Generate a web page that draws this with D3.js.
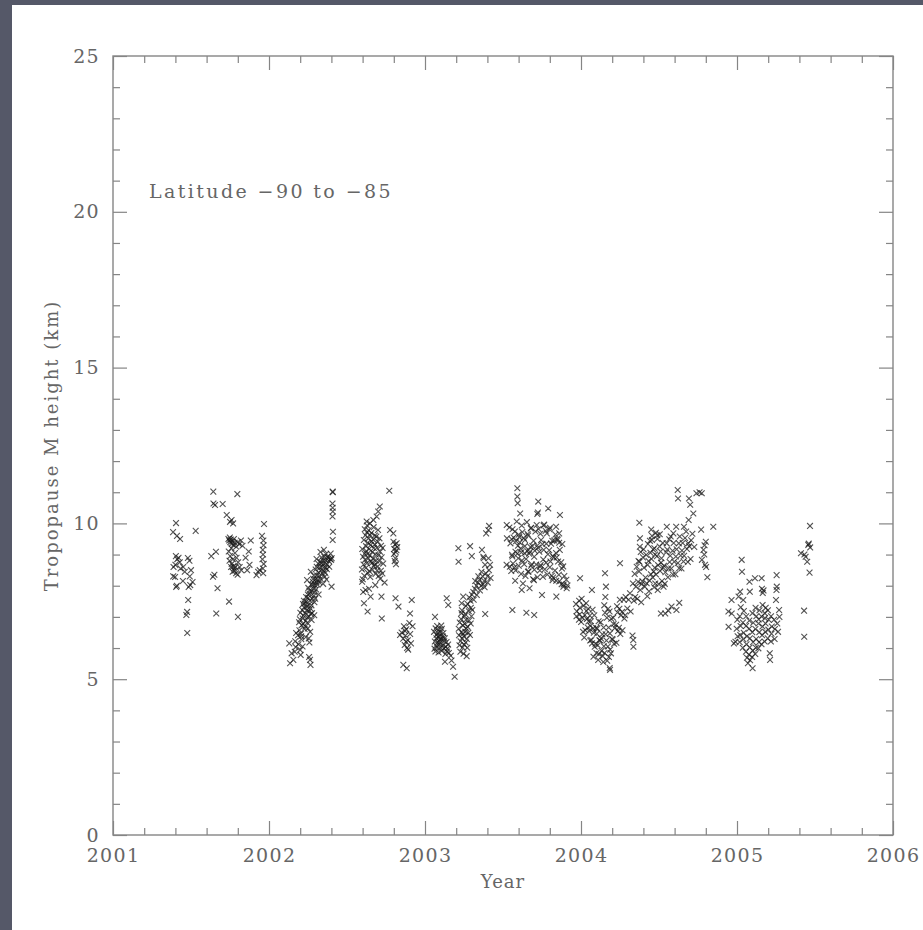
<!DOCTYPE html>
<html><head><meta charset="utf-8">
<script src="https://cdn.jsdelivr.net/npm/d3@7"></script>
<style>
html,body{margin:0;padding:0;background:#555868;}
svg{display:block;}
</style></head>
<body>
<svg id="c" width="923" height="930"></svg>
<script>
// ---- data: [decimal year, tropopause height km] ----
const obs2001 = [
 [2001.385,9.72],[2001.386,8.3],[2001.388,8.6],[2001.40,8.67],[2001.398,8.28],[2001.404,10.01],[2001.403,8.95],
 [2001.41,9.6],[2001.412,8.85],[2001.409,8.0],[2001.405,7.96],[2001.42,8.9],[2001.43,9.5],[2001.428,8.75],
 [2001.433,8.55],[2001.45,8.6],[2001.448,8.15],[2001.46,8.45],[2001.47,7.06],[2001.475,7.16],[2001.476,6.48],
 [2001.48,8.89],[2001.482,7.54],[2001.485,7.96],[2001.49,8.8],[2001.492,8.3],[2001.495,8.02],[2001.50,8.5],
 [2001.51,8.12],[2001.53,9.76],
 [2001.63,8.95],[2001.643,11.02],[2001.644,10.64],[2001.641,8.29],[2001.65,8.35],[2001.654,10.59],[2001.66,9.09],
 [2001.662,7.11],[2001.67,7.92],[2001.703,10.62],[2001.729,10.27],[2001.74,9.5],[2001.742,9.1],[2001.745,9.45],
 [2001.747,8.8],[2001.744,7.49],[2001.75,10.05],[2001.752,9.4],[2001.749,9.55],[2001.751,8.95],[2001.755,9.48],
 [2001.757,8.6],[2001.76,10.11],[2001.762,9.35],[2001.759,9.2],[2001.761,8.7],[2001.765,9.42],[2001.767,8.45],
 [2001.77,10.0],[2001.772,9.3],[2001.769,8.85],[2001.771,8.62],[2001.775,9.5],[2001.777,8.55],[2001.78,9.38],
 [2001.782,9.05],[2001.779,8.48],[2001.785,8.6],[2001.79,9.25],[2001.792,8.9],[2001.789,8.4],[2001.797,10.94],
 [2001.80,9.4],[2001.802,8.75],[2001.799,8.35],[2001.801,7.0],[2001.81,9.33],[2001.812,8.6],[2001.82,9.45],
 [2001.822,8.5],[2001.83,9.28],[2001.85,8.9],[2001.86,8.5],[2001.87,9.1],[2001.875,8.67],[2001.883,9.45],
 [2001.92,8.34],[2001.93,8.45],[2001.94,8.5],[2001.955,9.6],[2001.958,8.85],[2001.96,9.15],[2001.961,8.55],
 [2001.962,9.0],[2001.963,8.4],[2001.964,9.45],[2001.965,9.3],[2001.966,8.7],[2001.968,9.98]
];
const obs2002 = [
 [2002.13,6.15],[2002.135,5.51],[2002.145,5.83],[2002.156,5.62],
 [2002.168,6.22],[2002.174,6.48],[2002.171,6.03],[2002.165,5.88],[2002.186,6.41],[2002.193,6.83],[2002.189,6.12],
 [2002.195,6.57],[2002.198,6.92],[2002.204,6.46],[2002.201,7.13],[2002.207,6.28],[2002.2,5.94],[2002.203,5.78],
 [2002.209,6.73],[2002.213,7.22],[2002.216,6.95],[2002.206,6.38],[2002.218,7.41],[2002.221,7.04],[2002.225,7.31],
 [2002.219,6.77],[2002.228,6.61],[2002.224,7.52],[2002.231,7.12],[2002.236,6.88],[2002.229,7.43],[2002.238,7.64],
 [2002.233,6.69],[2002.241,7.21],[2002.243,7.33],[2002.247,6.98],[2002.239,7.49],[2002.249,7.72],[2002.245,6.81],
 [2002.252,7.93],[2002.254,7.38],[2002.258,7.18],[2002.251,7.61],[2002.256,7.02],[2002.249,6.63],[2002.259,7.84],
 [2002.255,6.31],[2002.262,7.53],[2002.266,7.27],[2002.261,7.74],[2002.268,7.09],[2002.264,6.52],[2002.259,6.18],
 [2002.271,8.04],[2002.257,5.71],[2002.263,5.62],[2002.266,5.46],[2002.274,7.82],[2002.278,7.58],[2002.272,7.37],
 [2002.281,8.03],[2002.276,7.12],[2002.283,8.22],[2002.285,7.91],[2002.288,7.68],[2002.282,8.12],[2002.291,7.47],
 [2002.287,8.33],[2002.294,8.02],[2002.297,8.21],[2002.292,7.79],[2002.299,8.52],[2002.296,7.58],[2002.304,8.11],
 [2002.308,8.33],[2002.302,7.88],[2002.306,8.61],[2002.313,8.19],[2002.317,8.42],[2002.311,8.03],[2002.315,8.71],
 [2002.323,8.31],[2002.326,8.58],[2002.321,8.12],[2002.328,8.77],[2002.332,8.49],[2002.335,8.72],[2002.331,8.22],
 [2002.337,8.91],[2002.342,8.62],[2002.346,8.81],[2002.344,8.38],[2002.352,8.71],[2002.355,8.93],[2002.351,8.48],
 [2002.357,8.29],[2002.362,8.82],[2002.364,8.58],[2002.366,9.02],[2002.361,8.41],[2002.372,8.68],[2002.374,8.92],
 [2002.371,8.53],[2002.382,8.88],[2002.384,8.79],[2002.386,8.61],[2002.392,8.86],[2002.395,9.03],[2002.398,8.83],
 [2002.402,8.88],[2002.401,7.97],[2002.215,6.05],[2002.236,6.35],[2002.273,6.9],[2002.29,7.05],[2002.318,7.72],
 [2002.347,8.06],[2002.368,8.2],[2002.352,9.15],[2002.33,9.08],[2002.305,8.86],[2002.268,8.45],[2002.244,8.18],
 [2002.408,11.02],[2002.409,11.0],[2002.407,10.64],[2002.408,10.5],[2002.409,10.38],[2002.407,10.22],
 [2002.410,9.73],[2002.408,9.47],
 [2002.598,9.18],[2002.603,8.93],[2002.596,8.52],[2002.601,8.21],[2002.604,7.8],[2002.597,8.13],
 [2002.608,9.47],[2002.613,9.03],[2002.606,8.68],[2002.611,8.32],[2002.614,9.81],[2002.609,7.44],
 [2002.618,9.62],[2002.622,9.27],[2002.616,8.83],[2002.621,8.57],[2002.624,9.11],[2002.619,7.86],
 [2002.626,10.06],[2002.628,9.71],[2002.633,9.38],[2002.631,9.02],[2002.627,8.72],[2002.634,8.41],[2002.629,9.93],
 [2002.632,7.17],[2002.638,9.52],[2002.642,9.18],[2002.637,8.88],[2002.643,8.47],[2002.639,9.78],[2002.641,7.9],
 [2002.647,10.0],[2002.648,9.63],[2002.652,9.31],[2002.646,8.97],[2002.653,8.78],[2002.649,8.28],[2002.651,7.65],
 [2002.657,9.42],[2002.662,9.08],[2002.659,8.73],[2002.663,8.51],[2002.656,9.69],[2002.669,10.11],[2002.668,9.48],
 [2002.672,9.21],[2002.667,8.87],[2002.673,8.63],[2002.671,9.88],[2002.678,9.32],[2002.682,9.01],[2002.677,8.68],
 [2002.683,8.38],[2002.679,9.61],[2002.681,8.02],[2002.688,9.58],[2002.692,9.22],[2002.687,8.81],[2002.693,8.49],
 [2002.69,10.22],[2002.698,9.41],[2002.702,8.98],[2002.697,8.62],[2002.703,8.31],[2002.699,9.79],[2002.70,10.38],
 [2002.708,9.52],[2002.712,9.09],[2002.707,8.79],[2002.713,8.22],[2002.71,10.54],[2002.718,9.28],[2002.722,8.91],
 [2002.717,8.48],[2002.721,7.65],[2002.723,6.95],[2002.728,9.21],[2002.732,8.71],[2002.727,8.39],[2002.741,8.1],
 [2002.771,11.05],[2002.776,9.79],[2002.797,9.68],[2002.798,9.41],[2002.803,9.18],[2002.801,9.02],[2002.806,8.79],
 [2002.808,9.32],[2002.812,9.08],[2002.81,8.88],[2002.814,8.69],[2002.811,7.6],[2002.818,9.36],[2002.822,9.24],
 [2002.817,9.14],[2002.83,7.33],
 [2002.84,6.42],[2002.85,6.5],[2002.86,6.3],[2002.861,5.46],[2002.865,6.7],[2002.87,6.1],[2002.872,6.55],
 [2002.875,6.4],[2002.88,6.6],[2002.878,6.2],[2002.883,5.35],[2002.885,6.0],[2002.89,6.25],[2002.892,5.95],
 [2002.90,6.8],[2002.904,7.11],[2002.905,6.45],[2002.91,6.15],[2002.915,7.54],[2002.92,6.7]
];
const obs2003 = [
 [2003.058,6.52],[2003.063,6.21],[2003.061,5.98],[2003.064,7.0],[2003.068,6.63],[2003.073,6.31],[2003.071,6.08],
 [2003.067,5.89],[2003.074,6.42],[2003.078,6.71],[2003.083,6.48],[2003.081,6.19],[2003.077,6.02],[2003.084,6.36],
 [2003.088,6.58],[2003.093,6.39],[2003.091,6.12],[2003.087,5.86],[2003.094,6.27],[2003.098,6.51],[2003.103,6.28],
 [2003.101,6.01],[2003.097,6.19],[2003.104,6.72],[2003.108,6.62],[2003.113,6.38],[2003.111,6.09],[2003.107,5.91],
 [2003.118,6.48],[2003.123,6.22],[2003.121,5.99],[2003.117,6.33],[2003.128,5.56],[2003.127,6.31],[2003.133,6.04],
 [2003.131,5.81],[2003.139,7.6],[2003.138,6.19],[2003.143,5.98],[2003.141,5.89],[2003.149,7.38],[2003.148,6.11],
 [2003.153,5.84],[2003.165,5.75],[2003.17,5.6],[2003.18,5.4],[2003.19,5.08],
 [2003.214,9.2],[2003.215,8.77],[2003.218,6.41],[2003.223,6.82],[2003.221,6.09],[2003.216,6.62],[2003.228,6.22],
 [2003.233,6.51],[2003.231,6.93],[2003.227,5.88],[2003.234,7.12],[2003.235,7.44],[2003.238,6.31],[2003.243,6.72],
 [2003.241,6.02],[2003.237,7.21],[2003.244,6.46],[2003.245,7.65],[2003.248,6.38],[2003.253,6.79],[2003.251,6.11],
 [2003.247,5.82],[2003.254,7.02],[2003.258,6.52],[2003.263,6.91],[2003.261,6.18],[2003.257,7.09],[2003.264,6.63],
 [2003.262,7.35],[2003.268,6.29],[2003.273,6.68],[2003.271,6.01],[2003.267,5.74],[2003.274,7.41],[2003.278,6.49],
 [2003.283,6.88],[2003.281,7.18],[2003.284,7.62],[2003.288,6.42],[2003.293,6.79],[2003.291,7.52],[2003.294,7.29],
 [2003.289,9.27],[2003.298,7.02],[2003.303,7.22],[2003.301,7.71],[2003.30,8.95],
 [2003.31,7.8],[2003.312,7.55],[2003.32,7.9],[2003.322,8.15],[2003.33,8.0],[2003.332,7.7],[2003.34,8.1],
 [2003.342,8.3],[2003.35,8.2],[2003.352,7.85],[2003.36,8.0],[2003.362,8.45],[2003.365,9.15],[2003.37,8.3],
 [2003.372,8.05],[2003.374,8.93],[2003.376,8.88],[2003.38,8.15],[2003.382,7.95],[2003.385,8.67],[2003.386,7.09],
 [2003.39,8.4],[2003.392,9.68],[2003.40,8.3],[2003.402,8.1],[2003.406,9.79],[2003.407,8.88],[2003.41,8.5],
 [2003.411,9.92],[2003.417,8.67],[2003.42,8.25],
 [2003.524,9.95],[2003.525,9.52],[2003.523,8.67],[2003.56,7.22],[2003.592,11.13],[2003.592,10.86],[2003.594,10.65],
 [2003.61,10.32],[2003.62,7.86],[2003.65,7.13],[2003.67,7.92],[2003.70,7.06],[2003.72,10.3],[2003.726,10.7],
 [2003.724,10.35],[2003.75,7.7],[2003.79,10.48],[2003.84,9.89],[2003.842,7.65],[2003.85,9.47],[2003.86,9.68],
 [2003.865,10.27],
 [2003.541,9.87],[2003.556,9.49],[2003.548,9.36],[2003.560,8.94],[2003.544,8.61],[2003.553,8.47],[2003.558,8.99],
 [2003.576,9.74],[2003.568,9.55],[2003.580,9.09],[2003.564,8.71],[2003.573,8.58],[2003.578,8.16],[2003.561,9.81],
 [2003.588,10.06],[2003.600,9.64],[2003.584,9.43],[2003.593,9.03],[2003.598,8.88],[2003.581,8.49],[2003.596,9.28],
 [2003.620,9.93],[2003.604,9.56],[2003.613,9.19],[2003.618,9.07],[2003.601,8.64],[2003.616,8.38],[2003.608,9.39],
 [2003.624,9.72],[2003.633,9.53],[2003.638,9.04],[2003.621,8.81],[2003.636,8.69],[2003.628,8.07],[2003.640,9.27],
 [2003.653,10.04],[2003.658,9.66],[2003.641,9.47],[2003.656,9.11],[2003.648,8.86],[2003.660,8.45],[2003.644,8.31],
 [2003.678,9.84],[2003.661,9.61],[2003.676,9.24],[2003.668,9.03],[2003.680,8.64],[2003.664,8.46],[2003.673,9.09],
 [2003.681,9.86],[2003.696,9.44],[2003.688,9.27],[2003.700,8.93],[2003.684,8.69],[2003.693,8.21],[2003.698,8.18],
 [2003.716,9.95],[2003.708,9.74],[2003.720,9.29],[2003.704,9.12],[2003.713,8.68],[2003.701,8.51],
 [2003.728,9.82],[2003.740,9.67],[2003.724,9.22],[2003.733,9.09],[2003.738,8.61],[2003.721,8.27],[2003.736,8.49],
 [2003.760,9.93],[2003.744,9.47],[2003.753,9.33],[2003.758,8.84],[2003.741,8.66],[2003.756,8.29],
 [2003.764,9.96],[2003.773,9.76],[2003.778,9.35],[2003.761,9.15],[2003.776,8.74],[2003.768,8.53],
 [2003.798,9.81],[2003.781,9.68],[2003.796,9.14],[2003.788,9.01],[2003.800,8.59],[2003.784,8.36],
 [2003.801,9.86],[2003.816,9.44],[2003.808,9.35],[2003.820,8.95],[2003.804,8.78],[2003.813,8.32],[2003.818,8.18],
 [2003.836,9.64],[2003.828,9.45],[2003.840,9.05],[2003.824,8.91],[2003.833,8.49],[2003.821,8.26],
 [2003.848,9.51],[2003.860,9.38],[2003.844,8.91],[2003.853,8.78],[2003.858,8.35],[2003.841,8.16],
 [2003.880,9.34],[2003.864,9.15],[2003.873,8.75],[2003.878,8.55],[2003.861,8.14],[2003.876,8.05],
 [2003.887,7.97],[2003.886,8.62],[2003.893,8.31],[2003.889,8.04],[2003.908,7.92],[2003.906,8.19],[2003.913,8.01],
 [2003.968,7.41],[2003.973,7.18],[2003.971,7.02],[2003.988,7.52],[2003.993,7.29],[2003.991,7.08],[2003.987,6.91],
 [2003.994,8.24]
];
const obs2004 = [
 [2004.004,7.58],[2004.016,7.36],[2004.010,6.97],[2004.001,6.84],[2004.013,6.52],
 [2004.033,7.44],[2004.024,7.06],[2004.038,6.93],[2004.028,6.57],[2004.021,6.34],[2004.035,7.19],
 [2004.046,7.26],[2004.057,7.04],[2004.043,6.66],[2004.052,6.55],[2004.059,6.24],[2004.049,6.86],
 [2004.074,7.23],[2004.063,6.86],[2004.078,6.63],[2004.066,6.26],[2004.071,6.15],[2004.061,6.71],
 [2004.07,7.86],[2004.08,5.72],
 [2004.085,7.05],[2004.097,6.64],[2004.082,6.49],[2004.093,6.14],[2004.088,6.04],[2004.099,5.84],
 [2004.113,6.86],[2004.104,6.63],[2004.118,6.25],[2004.107,6.09],[2004.115,5.81],[2004.101,6.46],[2004.11,5.62],
 [2004.126,6.83],[2004.137,6.44],[2004.123,6.24],[2004.132,5.91],[2004.139,5.74],[2004.128,6.31],
 [2004.154,7.13],[2004.145,6.66],[2004.158,6.44],[2004.147,6.06],[2004.151,5.84],[2004.143,5.55],[2004.156,7.64],
 [2004.149,7.37],[2004.154,8.4],[2004.16,7.97],
 [2004.166,6.97],[2004.177,6.66],[2004.163,6.24],[2004.172,6.05],[2004.179,5.71],[2004.168,5.59],[2004.174,7.26],
 [2004.186,5.3],[2004.184,5.36],
 [2004.194,6.94],[2004.185,6.47],[2004.198,6.29],[2004.187,5.95],[2004.192,5.83],[2004.183,7.17],
 [2004.206,6.97],[2004.217,6.64],[2004.203,6.27],[2004.212,6.14],[2004.209,6.77],
 [2004.234,7.14],[2004.225,6.75],[2004.238,6.55],[2004.227,6.17],[2004.231,7.34],
 [2004.246,7.26],[2004.257,7.05],[2004.243,6.65],[2004.252,6.45],[2004.249,7.55],[2004.25,8.72],
 [2004.274,7.55],[2004.263,7.16],[2004.278,6.95],[2004.266,6.57],
 [2004.286,7.64],[2004.297,7.27],[2004.283,7.05],[2004.314,7.76],[2004.305,7.55],[2004.318,7.17],
 [2004.33,6.4],[2004.335,6.26],[2004.336,6.04],
 [2004.333,8.07],[2004.347,7.64],[2004.339,7.52],[2004.344,8.38],
 [2004.366,8.13],[2004.352,7.97],[2004.361,7.58],[2004.357,8.61],[2004.369,8.79],
 [2004.374,10.02],[2004.378,9.52],[2004.377,9.25],
 [2004.372,8.46],[2004.388,8.05],[2004.380,7.86],[2004.375,8.77],[2004.386,7.47],[2004.383,9.08],
 [2004.404,8.58],[2004.393,8.14],[2004.409,7.97],[2004.397,8.91],[2004.401,9.17],
 [2004.427,8.67],[2004.413,8.26],[2004.421,8.08],[2004.418,8.99],[2004.425,7.66],[2004.429,9.34],
 [2004.433,8.79],[2004.448,8.37],[2004.440,8.16],[2004.436,7.82],[2004.445,9.06],[2004.442,9.44],
 [2004.45,9.8],[2004.455,9.6],[2004.452,8.86],[2004.466,8.46],[2004.459,8.27],[2004.469,7.95],[2004.455,9.47],
 [2004.463,9.16],[2004.47,9.2],[2004.475,9.0],
 [2004.487,8.95],[2004.473,8.58],[2004.481,8.36],[2004.476,8.07],[2004.489,9.62],[2004.48,9.7],[2004.49,9.5],
 [2004.494,8.66],[2004.507,8.47],[2004.499,8.05],[2004.492,7.86],[2004.504,9.26],[2004.505,9.65],
 [2004.51,9.1],[2004.512,7.11],
 [2004.513,8.74],[2004.527,8.58],[2004.519,8.15],[2004.529,7.97],[2004.516,8.88],[2004.524,9.37],
 [2004.546,9.07],[2004.532,8.64],[2004.541,8.43],[2004.537,8.06],[2004.549,9.36],[2004.54,7.11],[2004.55,9.89],
 [2004.553,9.16],[2004.568,8.76],[2004.561,8.56],[2004.557,8.27],[2004.566,9.49],[2004.56,7.2],
 [2004.587,9.12],[2004.572,8.96],[2004.579,8.55],[2004.589,8.36],[2004.575,9.58],[2004.58,7.33],
 [2004.594,9.37],[2004.608,8.94],[2004.598,8.77],[2004.605,8.37],[2004.592,9.68],[2004.61,9.89],[2004.612,7.22],
 [2004.627,9.36],[2004.613,9.17],[2004.621,8.73],[2004.629,8.56],[2004.62,11.07],[2004.622,10.8],[2004.63,7.45],
 [2004.633,9.58],[2004.647,9.13],[2004.639,8.97],[2004.644,8.55],
 [2004.667,9.53],[2004.652,9.37],[2004.661,8.96],[2004.657,8.78],[2004.66,9.89],
 [2004.674,9.74],[2004.688,9.36],[2004.679,9.18],[2004.685,8.76],[2004.69,10.11],[2004.692,10.8],
 [2004.706,9.46],[2004.693,9.27],[2004.702,8.86],[2004.70,10.6],[2004.714,9.67],[2004.726,9.24],
 [2004.72,10.32],[2004.74,10.97],[2004.76,11.0],
 [2004.77,9.8],[2004.774,10.97],[2004.775,8.83],[2004.785,9.15],[2004.79,9.0],[2004.792,9.3],[2004.795,8.67],
 [2004.80,9.41],[2004.802,8.6],[2004.81,8.27],[2004.848,9.89],
 [2004.945,7.17],[2004.946,6.68],[2004.965,7.54],[2004.966,7.11],[2004.98,6.15],[2004.99,6.2]
];
const obs2005 = [
 [2005.002,6.91],[2004.998,6.62],[2005.004,6.38],[2005.01,7.65],[2005.018,7.02],[2005.023,6.71],[2005.021,6.42],
 [2005.017,6.19],[2005.024,7.31],[2005.02,7.81],[2005.03,8.83],[2005.032,8.45],[2005.038,6.82],[2005.043,6.49],
 [2005.041,6.28],[2005.037,6.01],[2005.044,7.19],[2005.04,7.54],[2005.058,6.71],[2005.063,6.38],[2005.061,6.12],
 [2005.057,5.88],[2005.064,5.69],[2005.059,7.02],[2005.07,5.51],[2005.078,6.62],[2005.083,6.31],[2005.081,6.02],
 [2005.077,5.79],[2005.084,5.61],[2005.079,6.88],[2005.08,8.13],[2005.082,7.81],[2005.098,6.51],[2005.103,6.19],
 [2005.101,5.92],[2005.097,5.71],[2005.104,6.81],[2005.099,7.12],[2005.10,5.35],[2005.115,8.24],[2005.118,6.61],
 [2005.123,6.29],[2005.121,6.01],[2005.117,5.81],[2005.124,7.02],[2005.119,7.29],[2005.138,6.79],[2005.143,6.51],
 [2005.141,6.19],[2005.137,5.99],[2005.144,7.21],[2005.139,6.92],[2005.158,8.24],[2005.158,7.01],[2005.163,6.69],
 [2005.161,6.41],[2005.157,6.12],[2005.164,7.38],[2005.16,7.9],[2005.165,7.77],[2005.17,7.85],[2005.178,7.12],
 [2005.183,6.79],[2005.181,6.52],[2005.177,6.21],[2005.184,7.29],[2005.179,6.96],[2005.198,7.21],[2005.203,6.91],
 [2005.201,6.59],[2005.197,6.31],[2005.21,5.83],[2005.212,5.62],[2005.218,7.02],[2005.223,6.69],[2005.221,6.46],
 [2005.217,6.21],[2005.238,6.91],[2005.243,6.61],[2005.241,6.29],[2005.25,7.54],[2005.254,8.34],[2005.255,7.97],
 [2005.253,7.86],[2005.258,6.79],[2005.263,6.52],[2005.27,7.22],[2005.272,7.0],
 [2005.41,9.04],[2005.43,7.2],[2005.431,6.36],[2005.432,9.0],[2005.44,8.93],[2005.45,8.77],[2005.457,9.31],
 [2005.46,9.35],[2005.465,8.42],[2005.468,9.92],[2005.469,9.23]
];
const xTickLabels = [2001, 2002, 2003, 2004, 2005, 2006];
const yTickLabels = [0, 5, 10, 15, 20, 25];
const xLabel = "Year";
const yLabel = "Tropopause M height (km)";
const note = "Latitude \u221290 to \u221285";

// ---- drawing ----
const svg = d3.select("#c");
svg.append("rect").attr("x",12).attr("y",5).attr("width",911).attr("height",925).attr("fill","#fff");

const x = d3.scaleLinear().domain([2001,2006]).range([113,893]);
const y = d3.scaleLinear().domain([0,25]).range([835,56]);

const pts = [].concat(obs2001, obs2002, obs2003, obs2004, obs2005);

const axisColor = "#858585";
const textColor = "#666";
const font = "'DejaVu Serif', serif";

const minorX = d3.range(0,26).map(i=>2001+i*0.2).filter(v=>Math.abs(v-Math.round(v))>1e-6);
const minorY = d3.range(0,26).filter(v=>v%5!==0);

function styleAxis(g){
  g.select(".domain").remove();
  g.selectAll("line").attr("stroke",axisColor).attr("stroke-width",1.2);
  g.selectAll("text").attr("fill",textColor).attr("font-family",font).attr("font-size",19)
    .attr("letter-spacing","1.3px");
}
svg.append("g").attr("transform","translate(0,835)")
  .call(d3.axisBottom(x).tickValues(xTickLabels).tickSize(-14).tickPadding(14).tickFormat(d3.format("d"))).call(styleAxis);
svg.append("g").attr("transform","translate(0,835)")
  .call(d3.axisBottom(x).tickValues(minorX).tickSize(-7).tickFormat("")).call(styleAxis);
svg.append("g").attr("transform","translate(0,56)")
  .call(d3.axisTop(x).tickValues(xTickLabels).tickSize(-14).tickFormat("")).call(styleAxis);
svg.append("g").attr("transform","translate(0,56)")
  .call(d3.axisTop(x).tickValues(minorX).tickSize(-7).tickFormat("")).call(styleAxis);
svg.append("g").attr("transform","translate(113,0)")
  .call(d3.axisLeft(y).tickValues(yTickLabels).tickSize(-14).tickPadding(13).tickFormat(d3.format("d"))).call(styleAxis);
svg.append("g").attr("transform","translate(113,0)")
  .call(d3.axisLeft(y).tickValues(minorY).tickSize(-7).tickFormat("")).call(styleAxis);
svg.append("g").attr("transform","translate(893,0)")
  .call(d3.axisRight(y).tickValues(yTickLabels).tickSize(-14).tickFormat("")).call(styleAxis);
svg.append("g").attr("transform","translate(893,0)")
  .call(d3.axisRight(y).tickValues(minorY).tickSize(-7).tickFormat("")).call(styleAxis);

svg.append("rect").attr("x",x(2001)).attr("y",y(25)).attr("width",x(2006)-x(2001)).attr("height",y(0)-y(25))
  .attr("fill","none").attr("stroke",axisColor).attr("stroke-width",1.4);

const s = 2.9;
svg.append("g").selectAll("path").data(pts).join("path")
  .attr("d",d=>{const cx=x(d[0]),cy=y(d[1]);return `M${cx-s},${cy-s}L${cx+s},${cy+s}M${cx-s},${cy+s}L${cx+s},${cy-s}`;})
  .attr("stroke","#1a1a1a").attr("stroke-width",1.1).attr("stroke-opacity",0.75).attr("fill","none");

svg.append("text").attr("x",(x(2001)+x(2006))/2).attr("y",888).attr("text-anchor","middle")
  .attr("fill",textColor).attr("font-family",font).attr("font-size",18).attr("letter-spacing","1px").text(xLabel);
svg.append("text").attr("transform",`translate(58,${(y(0)+y(25))/2}) rotate(-90)`).attr("text-anchor","middle")
  .attr("fill",textColor).attr("font-family",font).attr("font-size",18).attr("letter-spacing","2px").text(yLabel);
svg.append("text").attr("x",149).attr("y",198)
  .attr("fill",textColor).attr("font-family",font).attr("font-size",19).attr("letter-spacing","2.4px").text(note);
</script>
</body></html>
